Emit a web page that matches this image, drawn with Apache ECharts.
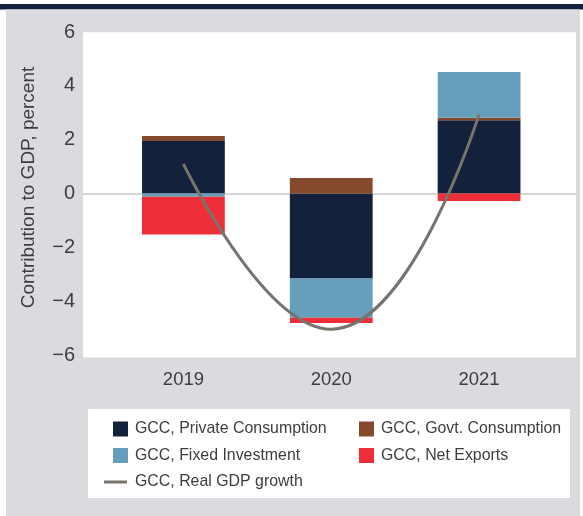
<!DOCTYPE html>
<html>
<head>
<meta charset="utf-8">
<script src="https://cdn.jsdelivr.net/npm/echarts@6/dist/echarts.min.js"></script>
<style>
  html, body { margin: 0; padding: 0; background: #ffffff; }
  #chart { width: 583px; height: 516px; }
</style>
</head>
<body>
<div id="chart"></div>
<script>
// GCC contributions to real GDP growth, percentage points
const years = ['2019', '2020', '2021'];
const privateConsumption = [1.95, -3.16, 2.72];
const govtConsumption = [0.19, 0.58, 0.09];
const fixedInvestment = [-0.12, -1.46, 1.70];
const netExports = [-1.40, -0.19, -0.28];
const realGdpGrowth = [1.10, -5.04, 2.94];
const yTicks = { min: -6, max: 6, step: 2 };

const FONT = "'Liberation Sans', Arial, sans-serif";
const TEXT = '#3d3d3d';

const COLORS = {
  pc: '#13213d',
  gc: '#854a2b',
  fi: '#659fbb',
  ne: '#ee2e38',
  gdp: '#78736c'
};

const chart = echarts.init(document.getElementById('chart'), null, { renderer: 'canvas' });

function barSeries(name, data, color) {
  return {
    name: name,
    type: 'bar',
    xAxisIndex: 1,
    yAxisIndex: 1,
    stack: 'contrib',
    barWidth: '56%',
    data: data,
    itemStyle: { color: color },
    z: 3
  };
}

const legendText = { fontFamily: FONT, fontSize: 15.9, color: TEXT, lineHeight: 20, padding: [0, 0, 0, 2] };

chart.setOption({
  animation: false,
  backgroundColor: '#ffffff',
  graphic: [
    // grey panel with dark rule on top
    { type: 'rect', shape: { x: 0, y: 4, width: 583, height: 5.5 }, style: { fill: '#14213d' }, z: -20 },
    { type: 'rect', shape: { x: 6, y: 9.5, width: 574, height: 507 }, style: { fill: '#dbdadf' }, z: -20 },
    // plotting area
    { type: 'rect', shape: { x: 83, y: 32.3, width: 493, height: 325.3 }, style: { fill: '#ffffff' }, z: -10 },
    // legend box
    { type: 'rect', shape: { x: 88, y: 409, width: 482, height: 89 }, style: { fill: '#ffffff' }, z: -10 }
  ],
  grid: [
    { left: 83, right: 7, top: 32, height: 323 },
    { left: 109.5, right: 30, top: 32, height: 323 }
  ],
  xAxis: [
    {
      // carries the zero baseline across the whole plotting area
      type: 'value', gridIndex: 0, min: 0, max: 1,
      axisLine: { show: true, onZero: true, lineStyle: { color: '#c9c9c9', width: 1.5 } },
      axisTick: { show: false }, axisLabel: { show: false }, splitLine: { show: false }
    },
    {
      type: 'category', gridIndex: 1, data: years,
      axisLine: { show: false }, axisTick: { show: false }, splitLine: { show: false },
      axisLabel: { fontFamily: FONT, fontSize: 18.5, color: TEXT, margin: 15 }
    }
  ],
  yAxis: [
    {
      type: 'value', gridIndex: 0,
      min: yTicks.min, max: yTicks.max, interval: yTicks.step,
      axisLine: { show: false }, axisTick: { show: false }, splitLine: { show: false },
      axisLabel: {
        fontFamily: FONT, fontSize: 20, color: TEXT, margin: 8,
        formatter: function (v) { return String(v).replace('-', '\u2212'); }
      },
      name: 'Contribution to GDP, percent',
      nameLocation: 'middle',
      nameRotate: 90,
      nameGap: 45,
      nameTextStyle: { fontFamily: FONT, fontSize: 19, color: TEXT, padding: [0, 0, 0, 12] }
    },
    {
      type: 'value', gridIndex: 1, show: false,
      min: yTicks.min, max: yTicks.max, interval: yTicks.step,
      splitLine: { show: false }
    }
  ],
  legend: [
    {
      orient: 'vertical', left: 108, top: 414, itemGap: 6.5,
      itemWidth: 15, itemHeight: 15, icon: 'rect',
      data: ['GCC, Private Consumption', 'GCC, Fixed Investment'],
      textStyle: legendText
    },
    {
      orient: 'vertical', left: 354, top: 414, itemGap: 6.5,
      itemWidth: 15, itemHeight: 15, icon: 'rect',
      data: ['GCC, Govt. Consumption', 'GCC, Net Exports'],
      textStyle: legendText
    },
    {
      orient: 'vertical', left: 99, top: 467,
      itemWidth: 23, itemHeight: 3, icon: 'rect',
      data: ['GCC, Real GDP growth'],
      textStyle: Object.assign({}, legendText, { padding: [0, 0, 0, 3] })
    }
  ],
  series: [
    barSeries('GCC, Private Consumption', privateConsumption, COLORS.pc),
    barSeries('GCC, Govt. Consumption', govtConsumption, COLORS.gc),
    barSeries('GCC, Fixed Investment', fixedInvestment, COLORS.fi),
    barSeries('GCC, Net Exports', netExports, COLORS.ne),
    {
      name: 'GCC, Real GDP growth',
      type: 'line',
      xAxisIndex: 1,
      yAxisIndex: 1,
      data: realGdpGrowth,
      smooth: 0.5,
      symbol: 'none',
      color: COLORS.gdp,
      itemStyle: { color: COLORS.gdp },
      lineStyle: { color: COLORS.gdp, width: 3 },
      z: 5
    }
  ]
});
</script>
</body>
</html>
